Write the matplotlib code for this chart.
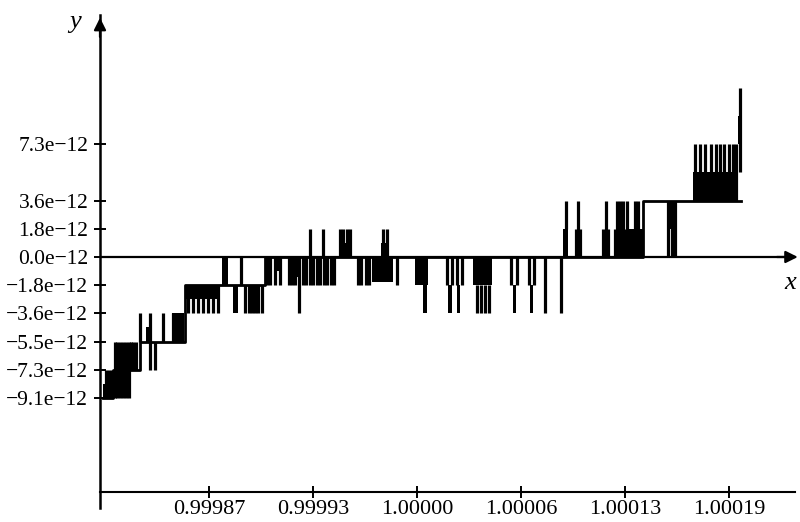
import numpy as np
import matplotlib
matplotlib.use('Agg')
import matplotlib.pyplot as plt

plt.rcParams['font.family'] = ['Liberation Serif', 'DejaVu Serif']

U = 2.0 ** -39   # one rounding step, about 1.82e-12
X0 = 1.0         # x values below are offsets from 1, in units of 1e-6

# staircase the trace sits on: start of each run and its level (in U)
base_x = [-193.1, -187.0, -170.4, -142.7, -93.5, 139.0, 199.3]
base_lv = [-5, -4, -3, -1, 0, 2, 2]

# single jumps of the trace: x, lower and upper level (in U)
spike_x = [-191.3, -189.4, -187.6,
           -185.7, -184.5, -182.7, -180.8, -179.0, -177.1,
           -175.9, -174.7, -172.8,
           -170.4, -164.0, -161.1, -156.2,
           -150.1, -148.2, -146.4, -144.5,
           -140.8, -137.8, -134.7, -131.6, -128.5, -125.5, -122.4,
           -108.2,
           -105.8, -103.3, -101.5, -99.6, -97.8, -95.3,
           -92.3, -90.4, -87.3, -84.3,
           -78.7, -76.9, -75.0, -72.6,
           -70.1, -68.3, -65.8, -64.0, -61.5, -59.7, -57.2, -55.4, -52.9, -51.0,
           -65.8, -57.8,
           -47.4, -45.5, -43.1, -41.2,
           -36.3, -34.4, -31.4, -29.5,
           -20.9, -18.5,
           -12.3,
           18.5, 21.5, 24.6, 27.7,
           36.9, 39.4, 41.8, 44.3,
           57.8, 61.5, 68.9, 72.0,
           78.7, 88.6,
           91.6, 97.8, 100.2, 99.0,
           114.4, 117.5, 116.2,
           123.0, 124.8, 126.7, 129.2, 134.1, 135.9,
           121.8, 128.0, 131.0,
           154.4, 156.8, 158.7,
           171.0, 174.0, 177.1, 180.8, 183.9, 186.3, 188.8, 191.9, 194.3, 196.2,
           198.6]
spike_lo = [-5, -5, -5,
            -5, -5, -5, -5, -5, -5,
            -4, -4, -4,
            -3, -4, -4, -3,
            -3, -3, -3, -3,
            -2, -2, -2, -2, -2, -2, -2,
            -1,
            -2, -2, -2, -2, -2, -2,
            -1, -1, -1, -1,
            -1, -1, -1, -2,
            -1, -1, -1, -1, -1, -1, -1, -1, -1, -1,
            0, 0,
            0, 0, 0, 0,
            -1, -1, -1, -1,
            0, 0,
            -1,
            -1, -1, -1, -1,
            -2, -2, -2, -2,
            -1, -1, -1, -1,
            -2, -2,
            1, 0, 0, 0,
            0, 0, 0,
            0, 0, 0, 0, 0, 0,
            0, 0, 0,
            0, 0, 0,
            2, 2, 2, 2, 2, 2, 2, 2, 2, 2,
            3]
spike_hi = [-4, -4, -4,
            -3, -3, -3, -3, -3, -3,
            -3, -3, -3,
            -2, -2, -3, -2,
            -2, -2, -2, -2,
            -1, -1, -1, -1, -1, -1, -1,
            0,
            -1, -1, -1, -1, -1, -1,
            0, 0, 0, 0,
            0, 0, 0, 0,
            0, 0, 0, 0, 0, 0, 0, 0, 0, 0,
            1, 1,
            1, 1, 1, 1,
            0, 0, 0, 0,
            1, 1,
            0,
            0, 0, 0, 0,
            -1, -1, -1, -1,
            0, 0, 0, 0,
            0, 0,
            2, 1, 1, 2,
            1, 1, 2,
            2, 2, 2, 2, 2, 2,
            1, 1, 1,
            2, 2, 2,
            4, 4, 4, 4, 4, 4, 4, 4, 4, 4,
            6]

# stretches where the trace flickers so fast it prints solid black
block_x0 = [-193.1, -183.9, -166.7, -150.7, -142.7, -119.9, -113.2, -87.9, -79.3,
            -66.4, -58.4, -48.0, -27.7, -22.1, -1.2, 3.7, 19.1, 24.6, 34.4,
            59.0, 69.5, 89.8, 129.8, 153.8, 169.7, 197.4]
block_x1 = [-187.0, -177.1, -163.0, -143.3, -122.4, -116.2, -110.1, -83.0, -72.0,
            -64.6, -56.6, -40.0, -14.8, -17.2, 6.8, 6.2, 21.5, 26.4, 46.1,
            60.9, 71.3, 92.9, 139.0, 159.9, 197.4, 199.9]
block_lo = [-5, -4.4, -3, -3, -1.5, -1, -2, -0.5, -0.7,
            0, 0, 0, -0.9, 0, -1, -2, -2, -2, -1,
            -2, -2, 0, 0, 1, 2, 4]
block_hi = [-4.5, -3.6, -2.5, -2, -1, 0, -1, 0, 0,
            0.5, 0.5, 0.5, 0, 0.5, 0, -1, -1, -1, 0,
            -1, -1, 1, 1, 2, 3, 5]

xtick_x = [-128, -64, 0, 64, 128, 192]
xtick_lbl = ['0.99987', '0.99993', '1.00000', '1.00006', '1.00013', '1.00019']
ytick_lv = [-5, -4, -3, -2, -1, 0, 1, 2, 4]
ytick_lbl = ['\u22129.1e\u221212', '\u22127.3e\u221212', '\u22125.5e\u221212',
             '\u22123.6e\u221212', '\u22121.8e\u221212', '0.0e\u221212',
             '1.8e\u221212', '3.6e\u221212', '7.3e\u221212']

fig = plt.figure(figsize=(8, 5.22), dpi=100)
ax = fig.add_axes([100 / 800, 14 / 522, 695 / 800, 493 / 522])

ax.set_xlim(X0 - 195e-6, X0 + 232.5e-6)
ax.set_ylim(-8.9 * U, 8.58 * U)

bx = X0 + np.array(base_x) * 1e-6
ax.step(bx, np.array(base_lv) * U, where='post', color='black', lw=2.0)
ax.vlines(X0 + np.array(spike_x) * 1e-6, np.array(spike_lo) * U,
          np.array(spike_hi) * U, color='black', lw=2.3)
x0 = X0 + np.array(block_x0) * 1e-6
x1 = X0 + np.array(block_x1) * 1e-6
lo = np.array(block_lo) * U
hi = np.array(block_hi) * U
ax.bar(x0, hi - lo, width=x1 - x0, bottom=lo, align='edge', color='black', lw=0)

# axes drawn like a hand-made plot: zero line with arrow, y axis with arrow
ax.axhline(0, color='black', lw=1.6)
ax.annotate('', xy=(1.008, 0), xytext=(0.97, 0), xycoords=('axes fraction', 'data'),
            arrowprops=dict(arrowstyle='-|>', color='black', lw=1.6, mutation_scale=18),
            annotation_clip=False)
ax.annotate('', xy=(0, 1.0), xytext=(0, 0.95), xycoords='axes fraction',
            arrowprops=dict(arrowstyle='-|>', color='black', lw=1.6, mutation_scale=18),
            annotation_clip=False)

for s in ['top', 'right']:
    ax.spines[s].set_visible(False)
ax.spines['left'].set_linewidth(1.8)
ax.spines['bottom'].set_linewidth(1.5)
ax.spines['bottom'].set_position(('data', -8.33 * U))

ax.set_xticks(X0 + np.array(xtick_x) * 1e-6)
ax.set_xticklabels(xtick_lbl)
ax.set_yticks(np.array(ytick_lv) * U)
ax.set_yticklabels(ytick_lbl)
ax.tick_params(direction='inout', length=9, width=1.4, color='black')
ax.tick_params(axis='x', pad=1, labelsize=16)
ax.tick_params(axis='y', pad=4, labelsize=15.5)

fig.text(75 / 800, 1 - 22 / 522, 'y', fontsize=19, style='italic', ha='center', va='center')
fig.text(790 / 800, 1 - 283 / 522, 'x', fontsize=19, style='italic', ha='center', va='center')

fig.savefig('out.png', dpi=100)
